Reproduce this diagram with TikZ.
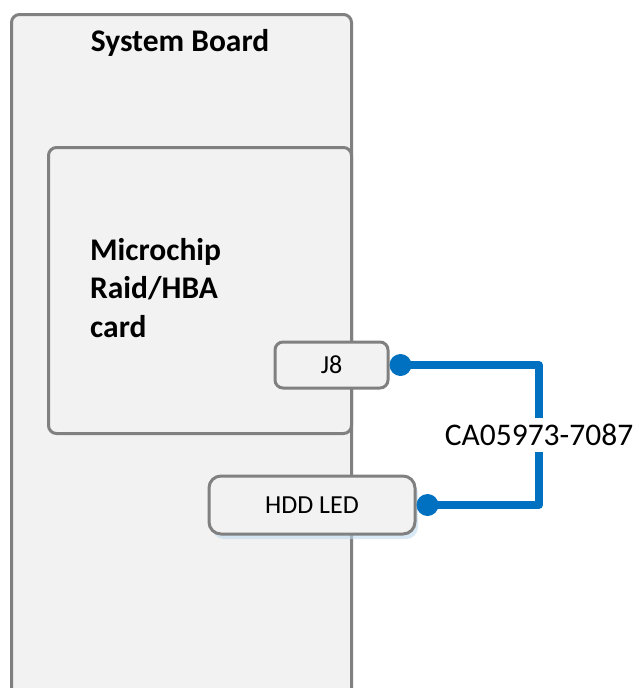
\documentclass[tikz,border=0pt]{standalone}
\usepackage{fontspec}
\setmainfont{Carlito}
\usepackage{xcolor}
\usetikzlibrary{positioning,shadows}
\definecolor{boardfill}{HTML}{F2F2F2}
\definecolor{boardline}{HTML}{808080}
\definecolor{cableblue}{HTML}{0070C0}

\tikzset{
  part/.style={draw=boardline, fill=boardfill, line width=3pt, rounded corners=8pt},
  port/.style={part, font=\fontsize{26}{31}\selectfont, inner sep=0pt},
  title/.style={font=\bfseries\fontsize{31.5}{38.5}\selectfont, align=left, inner sep=0pt},
  cable/.style={draw=cableblue, line width=7.5pt}
}

\begin{document}
\begin{tikzpicture}[x=1pt,y=-1pt]
        \useasboundingbox (0,0) rectangle (639,688);
        \clip (0,0) rectangle (639,688);
        %Board and card
        \node[part, anchor=north west, minimum width=340pt, minimum height=720pt] (board) at (10,13) {};
        \node[title] (boardname) at (180,43) {System Board};
        \node[part, anchor=north west, minimum width=303pt, minimum height=286pt] (card) at (47,146) {};
        \node[title, anchor=west] (cardname) at (90,288) {Microchip\\Raid/HBA\\card};
        %Ports
        \node[port, minimum width=113pt, minimum height=46pt] (j8) at (331.5,365) {J8};
        \node[port, rounded corners=12pt, minimum width=206pt, minimum height=58pt,
              drop shadow={fill=cableblue!25, opacity=0.6, shadow xshift=3pt, shadow yshift=-5pt}]
              (hdd) at (312,505) {HDD LED};
        %Cable
        \coordinate (endj8) at ([xshift=11pt]j8.east);
        \coordinate (endhdd) at ([xshift=11pt]hdd.east);
        \coordinate (bendtop) at (539,365);
        \coordinate (bendbot) at (539,505);
        \draw[cable, line join=round] (endj8) -- (bendtop) -- (bendbot)
              node[midway, fill=white, inner xsep=1pt, inner ysep=6pt, font=\fontsize{31.5}{38}\selectfont] (cablename) {CA05973-7087}
              -- (endhdd);
        \fill[cableblue] (endj8) circle(11pt);
        \fill[cableblue] (endhdd) circle(11pt);
      \end{tikzpicture}
\end{document}
